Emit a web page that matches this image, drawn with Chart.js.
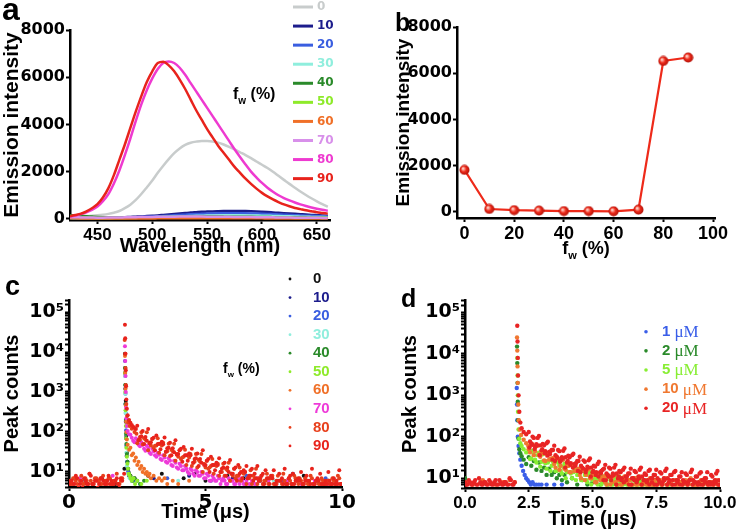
<!DOCTYPE html>
<html>
<head>
<meta charset="utf-8">
<script src="https://cdn.jsdelivr.net/npm/chart.js@4.4.1/dist/chart.umd.min.js"></script>
<style>
html, body { margin: 0; padding: 0; background: #fff; }
#wrap { position: relative; width: 741px; height: 531px; overflow: hidden; }
.panel { position: absolute; }
</style>
</head>
<body>
<div id="wrap">
  <div class="panel" style="left:0;top:0;width:370px;height:262px"><canvas id="chartA"></canvas></div>
  <div class="panel" style="left:370px;top:0;width:371px;height:262px"><canvas id="chartB"></canvas></div>
  <div class="panel" style="left:0;top:262px;width:370px;height:269px"><canvas id="chartC"></canvas></div>
  <div class="panel" style="left:370px;top:262px;width:371px;height:269px"><canvas id="chartD"></canvas></div>
</div>
<script>
// ---- panel a: emission spectra ----
const wavelengths = [425,430,435,440,445,450,455,460,465,470,475,480,485,490,495,500,505,510,515,520,525,530,535,540,545,550,555,560,565,570,575,580,585,590,595,600,605,610,615,620,625,630,635,640,645,650,655,660];
const fwLabels = ['0','10','20','30','40','50','60','70','80','90'];
const spec0 = [90,95,100,115,130,150,175,210,260,330,450,600,800,1050,1330,1620,1950,2250,2530,2780,2980,3130,3220,3270,3300,3300,3280,3230,3150,3050,2940,2820,2700,2570,2430,2290,2150,1990,1820,1650,1480,1320,1160,1010,870,740,620,510];
const spec10 = [50,45,40,40,40,40,45,50,55,60,70,80,90,100,115,130,145,165,185,205,225,245,265,280,295,305,315,322,328,332,333,332,328,320,310,298,285,270,255,240,225,210,195,180,167,155,143,132];
const spec20 = [40,36,32,30,30,30,32,35,40,45,52,60,68,76,86,96,108,120,134,148,162,176,190,202,212,222,229,234,238,240,240,238,235,230,223,215,206,196,186,175,165,154,144,134,125,117,109,101];
const spec30 = [30,28,26,25,25,25,26,28,30,34,38,43,49,55,61,68,75,83,91,99,107,114,121,128,133,138,142,145,147,148,148,147,145,142,138,134,129,123,117,111,105,99,93,87,82,77,72,68];
const spec40 = [150,140,125,110,95,80,68,58,52,50,50,52,55,58,62,66,70,74,78,82,85,88,90,92,93,94,94,94,93,92,90,88,86,83,80,77,74,70,67,63,60,57,54,51,48,46,44,42];
const spec50 = [60,55,50,45,40,36,34,33,33,34,35,37,40,43,46,49,52,55,58,60,62,64,65,66,67,67,67,66,65,64,62,60,58,56,54,52,50,48,46,44,42,40,38,36,34,33,32,31];
const spec60 = [20,19,18,17,16,15,15,15,15,15,16,16,17,17,18,18,19,19,20,20,20,21,21,21,21,21,21,21,21,20,20,20,20,19,19,19,18,18,18,17,17,17,16,16,16,15,15,15];
const spec70 = [70,65,60,55,52,50,50,52,55,58,62,66,70,74,78,82,85,88,90,92,93,94,94,94,93,92,90,88,86,84,82,80,77,74,71,68,65,62,59,56,53,50,48,46,44,42,40,38];
const spec80 = [100,140,200,280,380,520,750,1050,1500,2050,2700,3400,4150,4850,5450,5950,6350,6600,6670,6600,6400,6100,5750,5400,5050,4700,4350,4000,3650,3300,2950,2620,2300,2000,1750,1520,1320,1150,1000,880,780,690,610,540,480,430,385,345];
const spec90 = [110,160,220,320,450,620,900,1300,1850,2500,3150,3850,4550,5200,5800,6250,6600,6660,6500,6250,5900,5500,5050,4600,4200,3800,3450,3100,2800,2500,2200,1950,1700,1480,1280,1100,950,820,710,610,530,460,410,360,320,280,250,220];
const specColors = ['#c8cccc','#1c1c8c','#3a5ee0','#8feedd','#2a8a2a','#8eea2a','#f07028','#d890ea','#ee3ad0','#e8231c'];
const waveTicks = [450,500,550,600,650];
const intensityTicks = [0,2000,4000,6000,8000];

// ---- panel b: peak intensity vs water fraction ----
const fwLevels = [0,10,20,30,40,50,60,70,80,90];
const peakIntensity = [1820,130,80,60,40,40,30,100,6530,6680];
const fwTicks = [0,20,40,60,80,100];

// ---- panel c: decay curves vs fw, [time us, counts] ----
const decay0 = [[0.6,6],[1.2,7],[1.7,5],[2.03,12],[2.05,9000],[2.06,4000],[2.07,1500],[2.08,600],[2.09,200],[2.1,80],[2.12,30],[2.14,18],[2.18,10],[2.25,8],[2.4,7],[2.9,8],[3.4,9],[4.2,7],[4.6,9],[5.0,6],[5.8,8],[6.4,7],[7.3,6],[8.6,8],[9.5,6]];
const decay10 = [[2.05,3000],[2.06,1200],[2.07,500],[2.08,180],[2.09,70],[2.11,25],[2.14,12],[2.2,8],[2.3,6],[3.1,7],[4.4,8],[6.0,7],[7.0,6],[8.2,9],[9.1,6]];
const decay20 = [[2.05,6000],[2.06,2500],[2.07,900],[2.08,300],[2.09,110],[2.1,45],[2.13,18],[2.17,10],[2.25,7],[2.35,6],[3.6,7],[5.2,6],[6.5,8],[7.8,6],[9.4,7]];
const decay30 = [[2.05,2500],[2.06,900],[2.07,300],[2.08,90],[2.1,30],[2.12,14],[2.16,9],[2.22,7],[2.3,6],[2.6,5],[4.0,6],[7.5,6]];
const decay40 = [[2.05,4000],[2.06,1500],[2.07,500],[2.08,200],[2.09,90],[2.1,50],[2.12,28],[2.14,18],[2.17,12],[2.2,9],[2.24,8],[2.28,7],[2.33,6],[2.4,7],[2.5,6],[2.6,5],[2.75,6]];
const decay50 = [[2.05,3000],[2.06,1000],[2.07,350],[2.08,140],[2.09,70],[2.1,40],[2.12,24],[2.14,16],[2.16,12],[2.19,9],[2.22,8],[2.26,7],[2.3,6],[2.36,7],[2.42,5],[2.5,6],[2.65,5],[2.85,6]];
const decay60 = [[2.05,8000],[2.06,3000],[2.07,1200],[2.08,450],[2.09,180],[2.1,100],[2.12,65],[2.15,48],[2.2,36],[2.25,40],[2.3,26],[2.35,29],[2.4,19],[2.45,23],[2.5,15],[2.55,18],[2.6,12],[2.65,14],[2.7,10],[2.75,12],[2.8,9],[2.85,10],[2.9,8],[2.95,9],[3.0,7],[3.1,8],[3.2,6],[3.3,7],[3.4,6],[3.5,7],[3.6,5],[3.8,6],[4.0,5],[4.4,6]];
const decay70 = [[0.4,7],[1.1,6],[1.6,8],[2.05,14000],[2.06,6000],[2.07,2500],[2.08,1000],[2.09,400],[2.1,220],[2.12,140],[2.15,105],[2.2,88],
  [2.25,85],[2.3,72],[2.35,60],[2.4,55],[2.45,70],[2.5,58],[2.55,48],[2.6,44],[2.65,55],[2.7,47],[2.75,38],[2.8,34],[2.85,45],[2.9,40],[2.95,30],[3.0,28],
  [3.05,38],[3.1,33],[3.15,26],[3.2,24],[3.25,30],[3.3,27],[3.35,21],[3.4,20],[3.45,26],[3.5,23],[3.55,18],[3.6,17],[3.65,22],[3.7,19],[3.75,15],[3.8,14],
  [3.85,19],[3.9,17],[3.95,13],[4.0,12],[4.05,16],[4.1,14],[4.15,11],[4.2,11],[4.25,14],[4.3,12],[4.35,10],[4.4,9],[4.45,12],[4.5,11],[4.55,9],[4.6,8],
  [4.65,11],[4.7,10],[4.75,8],[4.8,8],[4.85,10],[4.9,9],[4.95,7],[5.0,7],[5.05,9],[5.1,8],[5.15,6],[5.2,6],[5.25,8],[5.3,7],[5.35,6],[5.4,6],[5.45,8],
  [5.5,7],[5.55,5],[5.6,6],[5.65,7],[5.7,6],[5.75,5],[5.8,5],[5.85,7],[5.9,6],[5.95,6],[6.0,6],[6.05,5],[6.1,5],[6.15,7],[6.2,6],[6.25,5],[6.3,7],[6.35,6],
  [6.4,5],[6.45,5],[6.5,6],[6.55,7],[6.6,5],[6.65,5],[6.7,6],[6.75,6],[6.8,5],[6.85,5],[6.9,7],[6.95,6],[7.1,5],[7.3,6],[7.6,5],[8.0,6],[8.5,5],[9.0,6],[9.5,5]];
const decay80 = [[0.05,5],[0.15,7],[0.25,6],[0.35,4],[0.45,8],[0.55,5],[0.65,6],[0.75,9],[0.85,5],[0.95,7],[1.05,6],[1.15,5],[1.25,8],[1.35,6],[1.45,7],[1.55,5],[1.65,6],[1.75,9],[1.85,5],[1.95,7],
  [2.04,20000],[2.06,9000],[2.07,4000],[2.08,1500],[2.1,500],[2.13,250],[2.17,170],[2.22,140],[2.3,120],[2.4,100],[2.47,90],
  [2.55,62],[2.65,99],[2.75,70],[2.85,98],[2.95,54],[3.05,67],[3.15,45],[3.25,70],[3.35,50],[3.45,54],
  [3.55,32],[3.65,51],[3.75,36],[3.85,51],[3.95,28],[4.05,35],[4.15,23],[4.25,36],[4.35,26],[4.45,28],
  [4.55,17],[4.65,28],[4.75,20],[4.85,28],[4.95,16],[5.05,19],[5.15,13],[5.25,21],[5.35,15],[5.45,16],
  [5.55,10],[5.65,16],[5.75,12],[5.85,17],[5.95,9],[6.05,12],[6.15,8],[6.25,13],[6.35,10],[6.45,10],
  [6.55,7],[6.65,11],[6.75,8],[6.85,12],[6.95,7],[7.05,8],[7.15,6],[7.25,9],[7.35,7],[7.45,8],
  [7.55,5],[7.65,8],[7.75,6],[7.85,9],[7.95,5],[8.05,7],[8.15,5],[8.25,8],[8.35,6],[8.45,7],
  [8.55,5],[8.65,7],[8.75,5],[8.85,8],[8.95,5],[9.05,6],[9.15,5],[9.25,7],[9.35,5],[9.45,6],
  [9.55,5],[9.65,7],[9.75,5],[9.85,8],[9.95,5]];
const decay80low = [[0.0,6],[0.1,5],[0.2,7],[0.3,5],[0.4,6],[0.5,5],[0.6,7],[0.7,5],[0.8,6],[0.9,5],[1.0,7],[1.1,6],[1.2,5],[1.3,6],[1.4,5],[1.5,7],[1.6,5],[1.7,6],[1.8,5],[1.9,6],
  [2.5,52],[2.6,64],[2.7,49],[2.8,64],[2.9,35],[3.0,46],[3.1,40],[3.2,46],[3.3,30],[3.4,46],
  [3.5,26],[3.6,33],[3.7,25],[3.8,33],[3.9,19],[4.0,24],[4.1,21],[4.2,24],[4.3,15],[4.4,23],
  [4.5,14],[4.6,18],[4.7,13],[4.8,18],[4.9,10],[5.0,13],[5.1,12],[5.2,14],[5.3,9],[5.4,14],
  [5.5,8],[5.6,10],[5.7,8],[5.8,11],[5.9,6],[6.0,8],[6.1,7],[6.2,8],[6.3,6],[6.4,9],
  [6.5,5],[6.6,7],[6.7,5],[6.8,7],[6.9,5],[7.0,6],[7.1,5],[7.2,6],[7.3,5],[7.4,7],
  [7.5,5],[7.6,5],[7.7,6],[7.8,5],[7.9,6],[8.0,5],[8.1,6],[8.2,5],[8.3,7],[8.4,5],
  [8.5,6],[8.6,5],[8.7,6],[8.8,5],[8.9,7],[9.0,5],[9.1,6],[9.2,5],[9.3,6],[9.4,5],
  [9.5,6],[9.6,5],[9.7,6],[9.8,5],[9.9,7],[10.0,5]];
const decay90 = [[0.05,6],[0.15,5],[0.25,8],[0.35,4],[0.45,6],[0.55,7],[0.65,5],[0.75,9],[0.85,5],[0.95,6],[1.05,4],[1.15,7],[1.25,6],[1.35,5],[1.45,8],[1.55,6],[1.65,5],[1.75,7],[1.85,4],[1.95,6],
  [2.02,9],[2.05,48000],[2.06,22000],[2.07,9000],[2.08,3500],[2.09,1400],[2.1,650],[2.12,380],[2.15,260],[2.2,200],[2.25,170],[2.3,150],[2.35,135],[2.4,125],[2.45,118],
  [2.5,143],[2.6,75],[2.7,105],[2.8,75],[2.9,119],[3.0,55],[3.1,72],[3.2,82],[3.3,51],[3.4,57],
  [3.5,73],[3.6,39],[3.7,54],[3.8,39],[3.9,62],[4.0,28],[4.1,38],[4.2,42],[4.3,26],[4.4,29],
  [4.5,38],[4.6,21],[4.7,29],[4.8,21],[4.9,35],[5.0,15],[5.1,21],[5.2,24],[5.3,15],[5.4,17],
  [5.5,22],[5.6,12],[5.7,17],[5.8,13],[5.9,20],[6.0,9],[6.1,13],[6.2,15],[6.3,10],[6.4,11],
  [6.5,14],[6.6,8],[6.7,12],[6.8,9],[6.9,14],[7.0,7],[7.1,9],[7.2,11],[7.3,7],[7.4,8],
  [7.5,11],[7.6,6],[7.7,9],[7.8,7],[7.9,12],[8.0,5],[8.1,8],[8.2,9],[8.3,6],[8.4,7],
  [8.5,10],[8.6,5],[8.7,8],[8.8,6],[8.9,12],[9.0,5],[9.1,7],[9.2,9],[9.3,5],[9.4,6],
  [9.5,10],[9.6,5],[9.7,7],[9.8,6],[9.9,11],[10.0,5]];
const decay90low = [[0.0,5],[0.1,6],[0.2,5],[0.3,7],[0.4,5],[0.5,4],[0.6,6],[0.7,5],[0.8,8],[0.9,5],[1.0,6],[1.1,5],[1.2,7],[1.3,5],[1.4,6],[1.5,5],[1.6,5],[1.7,6],[1.8,5],[1.9,7],
  [2.55,63],[2.65,78],[2.75,50],[2.85,60],[2.95,52],[3.05,68],[3.15,35],[3.25,50],[3.35,37],[3.45,49],
  [3.55,32],[3.65,40],[3.75,26],[3.85,31],[3.95,27],[4.05,35],[4.15,18],[4.25,26],[4.35,19],[4.45,26],
  [4.55,17],[4.65,22],[4.75,14],[4.85,17],[4.95,15],[5.05,19],[5.15,10],[5.25,15],[5.35,11],[5.45,15],
  [5.55,10],[5.65,13],[5.75,8],[5.85,10],[5.95,9],[6.05,12],[6.15,6],[6.25,9],[6.35,7],[6.45,10],
  [6.55,7],[6.65,8],[6.75,6],[6.85,7],[6.95,6],[7.05,8],[7.15,5],[7.25,7],[7.35,5],[7.45,7],
  [7.55,5],[7.65,6],[7.75,6],[7.85,5],[7.95,5],[8.05,7],[8.15,5],[8.25,5],[8.35,6],[8.45,6],
  [8.55,5],[8.65,6],[8.75,6],[8.85,5],[8.95,5],[9.05,6],[9.15,6],[9.25,5],[9.35,5],[9.45,5],
  [9.55,6],[9.65,5],[9.75,5],[9.85,5],[9.95,5]];
const decaySetsC = [decay0,decay10,decay20,decay30,decay40,decay50,decay60,decay70,decay80.concat(decay80low),decay90.concat(decay90low)];
const decayColorsC = ['#111111','#1c1c8c','#3a5ee0','#8feedd','#2a8a2a','#8eea2a','#f07028','#ee3ad8','#e8401c','#e8231c'];
const timeTicksC = [0,5,10];

// ---- panel d: decay curves vs concentration ----
const concLabels = ['1 \u03bcM','2 \u03bcM','5 \u03bcM','10 \u03bcM','20 \u03bcM'];
const conc1 = [[2.03,1500],[2.04,600],[2.05,250],[2.07,100],[2.1,60],[2.13,40],[2.17,28],[2.22,20],[2.28,15],[2.34,12],[2.4,10],[2.46,9],[2.52,8],[2.58,7],[2.65,8],[2.72,7],[2.8,7],[2.9,7],[3.0,7],[3.2,7],[3.5,7],[3.8,7]];
const conc2 = [[0.0,10],[2.04,15000],[2.05,6000],[2.06,2000],[2.07,700],[2.08,250],[2.1,90],[2.13,50],[2.17,40],[2.22,34],[2.3,28],[2.4,22],
  [2.5,32],[2.6,20],[2.7,26],[2.8,16],[2.9,24],[3.0,15],[3.1,18],[3.2,12],[3.3,17],[3.4,12],[3.5,14],[3.6,10],[3.7,12],[3.8,9],[3.9,12],[4.0,8],[4.2,10],[4.4,7],[4.6,9],[4.8,7],[5.0,8],[5.3,7],[5.6,7],[6.0,7]];
const conc5 = [[2.05,8000],[2.06,3000],[2.07,1000],[2.08,400],[2.1,150],[2.13,90],[2.17,70],[2.22,60],[2.3,50],[2.4,42],
  [2.5,50],[2.6,30],[2.7,37],[2.8,24],[2.9,41],[3.0,25],[3.1,26],[3.2,17],[3.3,27],[3.4,20],
  [3.5,25],[3.6,15],[3.7,20],[3.8,13],[3.9,22],[4.0,14],[4.1,14],[4.2,10],[4.3,16],[4.4,12],
  [4.5,15],[4.6,9],[4.7,12],[4.8,8],[4.9,14],[5.0,9],[5.1,10],[5.2,7],[5.3,11],[5.4,8],
  [5.5,11],[5.6,7],[5.7,9],[5.8,7],[5.9,11],[6.0,7],[6.1,8],[6.2,7],[6.3,9],[6.4,7],
  [6.5,9],[6.6,7],[6.7,8],[6.8,7],[6.9,9],[7.0,7],[7.2,7],[7.4,7],[7.7,7],[8.0,7]];
const conc5b = [[2.55,29],[2.65,46],[2.75,28],[2.85,36],[2.95,19],[3.05,38],[3.15,23],[3.25,24],[3.35,15],[3.45,25],
  [3.55,15],[3.65,24],[3.75,15],[3.85,19],[3.95,10],[4.05,20],[4.15,13],[4.25,14],[4.35,9],[4.45,15],
  [4.55,9],[4.65,15],[4.75,9],[4.85,12],[4.95,7],[5.05,14],[5.15,9],[5.25,10],[5.35,7],[5.45,11],
  [5.55,7],[5.65,11],[5.75,7],[5.85,9],[5.95,7],[6.05,11],[6.15,7],[6.25,8],[6.35,7],[6.45,9],
  [6.55,7],[6.65,10],[6.75,7],[6.85,8],[6.95,7],[7.05,9],[7.15,7],[7.25,8],[7.35,7],[7.45,8]];
const conc10 = [[0.1,8],[0.3,7],[0.7,9],[1.2,7],[1.5,8],[1.75,9],[1.95,8],
  [2.04,25000],[2.05,12000],[2.06,5000],[2.07,2000],[2.09,600],[2.11,250],[2.15,150],[2.2,110],[2.3,85],[2.4,70],[2.48,60],
  [2.55,42],[2.65,66],[2.75,45],[2.85,61],[2.95,33],[3.05,40],[3.15,26],[3.25,40],[3.35,29],[3.45,31],
  [3.55,18],[3.65,29],[3.75,20],[3.85,28],[3.95,16],[4.05,20],[4.15,14],[4.25,21],[4.35,15],[4.45,17],
  [4.55,10],[4.65,16],[4.75,12],[4.85,17],[4.95,10],[5.05,12],[5.15,8],[5.25,13],[5.35,10],[5.45,11],
  [5.55,7],[5.65,11],[5.75,8],[5.85,12],[5.95,7],[6.05,9],[6.15,7],[6.25,11],[6.35,8],[6.45,9],
  [6.55,7],[6.65,10],[6.75,7],[6.85,11],[6.95,7],[7.05,8],[7.15,7],[7.25,10],[7.35,7],[7.45,9],
  [7.55,7],[7.65,9],[7.75,7],[7.85,10],[7.95,7],[8.05,8],[8.15,7],[8.25,9],[8.35,7],[8.45,8],
  [8.55,7],[8.65,9],[8.75,7],[8.85,10],[8.95,7],[9.05,7],[9.15,7],[9.25,9],[9.35,7],[9.45,8],
  [9.55,7],[9.65,8],[9.75,7],[9.85,9],[9.95,7]];
const conc10b = [[2.5,50],[2.6,66],[2.7,36],[2.8,59],[2.9,37],[3.0,42],[3.1,27],[3.2,40],[3.3,28],[3.4,29],
  [3.5,22],[3.6,29],[3.7,16],[3.8,27],[3.9,17],[4.0,20],[4.1,14],[4.2,21],[4.3,15],[4.4,16],
  [4.5,12],[4.6,16],[4.7,9],[4.8,16],[4.9,10],[5.0,12],[5.1,8],[5.2,13],[5.3,9],[5.4,10],
  [5.5,8],[5.6,11],[5.7,7],[5.8,11],[5.9,8],[6.0,9],[6.1,7],[6.2,10],[6.3,8],[6.4,9],
  [6.5,7],[6.6,10],[6.7,7],[6.8,10],[6.9,7],[7.0,8],[7.1,7],[7.2,9],[7.3,7],[7.4,8],
  [7.5,7],[7.6,9],[7.7,7],[7.8,9],[7.9,7],[8.0,8],[8.1,7],[8.2,9],[8.3,7],[8.4,8],
  [8.5,7],[8.6,8],[8.7,7],[8.8,9],[8.9,7],[9.0,7],[9.1,7],[9.2,8],[9.3,7],[9.4,8],
  [9.5,7],[9.6,8],[9.7,7],[9.8,8],[9.9,7],[10.0,7]];
const conc20 = [[0.05,7],[0.15,9],[0.25,7],[0.35,8],[0.45,7],[0.55,10],[0.65,7],[0.75,8],[0.85,7],[0.95,9],[1.05,7],[1.15,8],[1.25,7],[1.35,9],[1.45,7],[1.55,8],[1.65,7],[1.75,10],[1.85,7],[1.95,8],
  [2.05,48000],[2.06,20000],[2.07,8000],[2.08,3000],[2.1,1000],[2.13,400],[2.17,220],[2.22,160],[2.3,130],[2.4,115],
  [2.5,130],[2.6,69],[2.7,94],[2.8,66],[2.9,104],[3.0,47],[3.1,62],[3.2,70],[3.3,43],[3.4,48],
  [3.5,61],[3.6,33],[3.7,45],[3.8,32],[3.9,52],[4.0,24],[4.1,32],[4.2,36],[4.3,22],[4.4,26],
  [4.5,33],[4.6,18],[4.7,25],[4.8,19],[4.9,30],[5.0,14],[5.1,19],[5.2,22],[5.3,14],[5.4,16],
  [5.5,21],[5.6,12],[5.7,17],[5.8,13],[5.9,21],[6.0,10],[6.1,14],[6.2,16],[6.3,11],[6.4,13],
  [6.5,17],[6.6,10],[6.7,14],[6.8,11],[6.9,18],[7.0,9],[7.1,12],[7.2,15],[7.3,10],[7.4,12],
  [7.5,16],[7.6,9],[7.7,13],[7.8,10],[7.9,17],[8.0,8],[8.1,12],[8.2,14],[8.3,9],[8.4,11],
  [8.5,14],[8.6,8],[8.7,12],[8.8,9],[8.9,16],[9.0,8],[9.1,11],[9.2,13],[9.3,9],[9.4,10],
  [9.5,14],[9.6,8],[9.7,11],[9.8,9],[9.9,15],[10.0,7],
  [2.55,77],[2.65,101],[2.75,57],[2.85,94],[2.95,62],[3.05,67],[3.15,45],[3.25,76],[3.35,44],[3.45,48],
  [3.55,36],[3.65,48],[3.75,27],[3.85,46],[3.95,32],[4.05,35],[4.15,23],[4.25,39],[4.35,23],[4.45,26],
  [4.55,20],[4.65,27],[4.75,16],[4.85,27],[4.95,18],[5.05,20],[5.15,14],[5.25,25],[5.35,15],[5.45,17],
  [5.55,13],[5.65,18],[5.75,11],[5.85,18],[5.95,13],[6.05,15],[6.15,10],[6.25,18],[6.35,11],[6.45,13],
  [6.55,10],[6.65,15],[6.75,9],[6.85,16],[6.95,11],[7.05,13],[7.15,9],[7.25,16],[7.35,10],[7.45,12],
  [7.55,10],[7.65,14],[7.75,8],[7.85,15],[7.95,10],[8.05,12],[8.15,9],[8.25,15],[8.35,9],[8.45,11],
  [8.55,9],[8.65,13],[8.75,8],[8.85,14],[8.95,9],[9.05,11],[9.15,8],[9.25,14],[9.35,9],[9.45,10],
  [9.55,8],[9.65,12],[9.75,7],[9.85,13],[9.95,9]];
const conc20low = [[0.0,8],[0.1,7],[0.2,8],[0.3,7],[0.4,9],[0.5,7],[0.6,8],[0.7,7],[0.8,8],[0.9,7],[1.0,8],[1.1,7],[1.2,9],[1.3,7],[1.4,8],[1.5,7],[1.6,8],[1.7,7],[1.8,9],[1.9,7],
  [2.53,55],[2.63,64],[2.73,51],[2.83,62],[2.93,36],[3.03,50],[3.13,40],[3.23,35],[3.33,38],[3.43,28],
  [3.53,26],[3.63,31],[3.73,25],[3.83,30],[3.93,18],[4.03,26],[4.13,21],[4.23,18],[4.33,20],[4.43,15],
  [4.53,14],[4.63,17],[4.73,14],[4.83,18],[4.93,11],[5.03,15],[5.13,12],[5.23,11],[5.33,13],[5.43,9],
  [5.53,9],[5.63,11],[5.73,9],[5.83,12],[5.93,7],[6.03,11],[6.13,9],[6.23,8],[6.33,9],[6.43,7],
  [6.53,7],[6.63,9],[6.73,8],[6.83,10],[6.93,7],[7.03,9],[7.13,8],[7.23,7],[7.33,8],[7.43,7],
  [7.53,7],[7.63,8],[7.73,7],[7.83,9],[7.93,7],[8.03,9],[8.13,7],[8.23,7],[8.33,8],[8.43,7],
  [8.53,7],[8.63,8],[8.73,7],[8.83,9],[8.93,7],[9.03,8],[9.13,7],[9.23,7],[9.33,7],[9.43,8],
  [9.53,7],[9.63,7],[9.73,8],[9.83,8],[9.93,7]];
const concSets = [conc1,conc2,conc5.concat(conc5b),conc10.concat(conc10b),conc20.concat(conc20low)];
const concColors = ['#3a5ee8','#2a8a2a','#88ee33','#f07830','#e82424'];
const timeTicksD = [0,2.5,5,7.5,10];
const timeTickLabelsD = ['0.0','2.5','5.0','7.5','10.0'];
const logTickVals = [10,100,1000,10000,100000];
const logTickLabels = ['10\u00b9','10\u00b2','10\u00b3','10\u2074','10\u2075'];

// ---------------------------------------------------------------
const SANS = '"Liberation Sans", Arial, sans-serif';
const WIDE = '"DejaVu Sans", sans-serif';
const SERIF = '"Liberation Serif", "Times New Roman", serif';
Chart.defaults.animation = false;
Chart.defaults.color = '#000';
Chart.defaults.font.family = SANS;

function axis(o) {
  return {
    type: o.type || 'linear',
    min: o.min, max: o.max,
    border: { color: '#000', width: 2.5 },
    grid: { drawOnChartArea: false, drawTicks: true, tickLength: 4, tickWidth: 2, color: '#000', tickColor: '#000' },
    ticks: { autoSkip: false, maxRotation: 0, padding: o.pad != null ? o.pad : 1, color: '#000',
             font: { family: o.fam, size: o.size, weight: 'bold' }, callback: o.cb },
    title: { display: !!o.title, text: o.title, color: '#000',
             font: { family: SANS, size: o.titleSize || 20, weight: 'bold' }, padding: o.titlePad || 0 },
    afterBuildTicks: o.vals ? (s => { s.ticks = o.vals.map(v => ({ value: v })); }) : undefined,
    afterFit: s => { if (o.w != null) s.width = o.w; if (o.h != null) s.height = o.h; }
  };
}

function logLabel(v) {
  const i = logTickVals.findIndex(t => Math.abs(t - v) / t < 1e-6);
  return i >= 0 ? logTickLabels[i] : '';
}

function drawFw(ctx, f, chart) {
  const big = 'bold ' + f.size + 'px ' + SANS;
  const small = 'bold ' + Math.round(f.size * 0.6) + 'px ' + SANS;
  ctx.font = big; const w1 = ctx.measureText('f').width; const w3 = ctx.measureText(' (%)').width;
  ctx.font = small; const w2 = ctx.measureText('w').width;
  let x = f.x;
  if (f.center) x = (chart.chartArea.left + chart.chartArea.right) / 2 - (w1 + w2 + w3) / 2;
  ctx.fillStyle = '#000';
  ctx.textBaseline = 'alphabetic';
  ctx.textAlign = 'left';
  ctx.font = big; ctx.fillText('f', x, f.y);
  ctx.font = small; ctx.fillText('w', x + w1, f.y + f.size * 0.3);
  ctx.font = big; ctx.fillText(' (%)', x + w1 + w2, f.y);
}

const decor = {
  id: 'decor',
  afterDraw(chart, args, opts) {
    const ctx = chart.ctx;
    ctx.save();
    if (opts.letter) {
      ctx.fillStyle = '#000';
      ctx.textAlign = 'left';
      ctx.textBaseline = 'alphabetic';
      ctx.font = 'bold ' + opts.letter.size + 'px ' + SANS;
      ctx.fillText(opts.letter.text, opts.letter.x, opts.letter.y);
    }
    const lg = opts.legend;
    if (lg) {
      chart.data.datasets.forEach((ds, i) => {
        const y = lg.y + i * lg.dy;
        const col = ds.borderColor;
        ctx.fillStyle = col; ctx.strokeStyle = col;
        if (lg.kind === 'line') {
          ctx.lineWidth = 3;
          ctx.beginPath(); ctx.moveTo(lg.x1, y); ctx.lineTo(lg.x2, y); ctx.stroke();
        } else {
          ctx.beginPath(); ctx.arc(lg.x1, y, lg.r, 0, Math.PI * 2); ctx.fill();
        }
        ctx.textAlign = 'left';
        ctx.textBaseline = 'middle';
        if (lg.unitFont) {
          const parts = ds.label.split(' ');
          ctx.font = lg.font;
          ctx.fillText(parts[0] + ' ', lg.tx, y);
          const w = ctx.measureText(parts[0] + ' ').width;
          ctx.font = lg.unitFont;
          ctx.fillText(parts[1], lg.tx + w, y + 1);
        } else {
          ctx.font = lg.font;
          ctx.fillText(ds.label, lg.tx, y);
        }
      });
    }
    (opts.fw || []).forEach(f => drawFw(ctx, f, chart));
    ctx.restore();
  }
};

function sphere(color) {
  const c = document.createElement('canvas');
  c.width = 11; c.height = 11;
  const g = c.getContext('2d');
  const grad = g.createRadialGradient(4, 4, 0.5, 5.5, 5.5, 5.5);
  grad.addColorStop(0, '#ffd6cc');
  grad.addColorStop(0.45, color);
  grad.addColorStop(1, '#a80e06');
  g.fillStyle = grad;
  g.beginPath(); g.arc(5.5, 5.5, 5, 0, Math.PI * 2); g.fill();
  return c;
}

// ---- chart a ----
const specSets = [spec0,spec10,spec20,spec30,spec40,spec50,spec60,spec70,spec80,spec90];
new Chart(document.getElementById('chartA'), {
  type: 'line',
  data: {
    datasets: specSets.map((vals, i) => ({
      label: fwLabels[i],
      data: wavelengths.map((w, k) => ({ x: w, y: vals[k] })),
      borderColor: specColors[i], backgroundColor: specColors[i],
      borderWidth: 2.5, pointRadius: 0, cubicInterpolationMode: 'monotone', order: -i
    }))
  },
  options: {
    responsive: true, maintainAspectRatio: false, events: [],
    layout: { padding: { left: 0, right: 40, top: 30, bottom: 0 } },
    scales: {
      x: axis({ min: 425, max: 662, vals: waveTicks, cb: v => String(v), fam: SANS, size: 17, h: 42,
                title: 'Wavelength (nm)', titleSize: 20, titlePad: { top: 0, bottom: 4 } }),
      y: axis({ min: -50, max: 8000, vals: intensityTicks, cb: v => String(v), fam: WIDE, size: 16, w: 70,
                title: 'Emission intensity', titleSize: 21, titlePad: { top: 0, bottom: 0 } })
    },
    plugins: {
      legend: { display: false }, tooltip: { enabled: false },
      decor: {
        letter: { text: 'a', x: 2, y: 20, size: 32 },
        legend: { kind: 'line', x1: 293, x2: 313, tx: 317, y: 7, dy: 19.07, font: 'bold 12px ' + WIDE },
        fw: [{ x: 233, y: 99, size: 16 }]
      }
    }
  },
  plugins: [decor]
});

// ---- chart b ----
new Chart(document.getElementById('chartB'), {
  type: 'line',
  data: {
    datasets: [{
      label: 'peak',
      data: fwLevels.map((f, k) => ({ x: f, y: peakIntensity[k] })),
      borderColor: '#ee2a1a', borderWidth: 2.2,
      pointStyle: sphere('#ee2a1a'), pointRadius: 5, tension: 0
    }]
  },
  options: {
    responsive: true, maintainAspectRatio: false, events: [],
    layout: { padding: { left: 0, right: 26, top: 27, bottom: 0 } },
    scales: {
      x: axis({ min: -3, max: 100.8, vals: fwTicks, cb: v => String(v), fam: SANS, size: 18, h: 44 }),
      y: axis({ min: -260, max: 8000, vals: intensityTicks, cb: v => String(v), fam: WIDE, size: 16, w: 87,
                title: 'Emission intensity', titleSize: 19, titlePad: { top: 22, bottom: 0 } })
    },
    plugins: {
      legend: { display: false }, tooltip: { enabled: false },
      decor: {
        letter: { text: 'b', x: 25, y: 31, size: 25 },
        fw: [{ center: true, y: 254, size: 18 }]
      }
    }
  },
  plugins: [decor]
});

// ---- chart c ----
new Chart(document.getElementById('chartC'), {
  type: 'scatter',
  data: {
    datasets: decaySetsC.map((pairs, i) => ({
      label: fwLabels[i],
      data: pairs.map(p => ({ x: p[0], y: p[1] })),
      backgroundColor: decayColorsC[i], borderColor: decayColorsC[i],
      pointRadius: 2, pointBorderWidth: 0, pointHoverRadius: 0, showLine: false, order: -i
    }))
  },
  options: {
    responsive: true, maintainAspectRatio: false, events: [],
    layout: { padding: { left: 0, right: 28, top: 38, bottom: 0 } },
    scales: {
      x: axis({ min: 0, max: 10, vals: timeTicksC, cb: v => String(v), fam: WIDE, size: 20, h: 44, pad: 0,
                title: 'Time (\u03bcs)', titleSize: 20, titlePad: { top: 0, bottom: 7 } }),
      y: axis({ type: 'logarithmic', min: 4.2, max: 200000, cb: logLabel, fam: WIDE, size: 19, w: 69,
                title: 'Peak counts', titleSize: 20, titlePad: { top: 0, bottom: 0 } })
    },
    plugins: {
      legend: { display: false }, tooltip: { enabled: false },
      decor: {
        letter: { text: 'c', x: 5, y: 33, size: 27 },
        legend: { kind: 'dot', x1: 290, r: 1.4, tx: 313, y: 17, dy: 18.55, font: 'bold 15px ' + SANS },
        fw: [{ x: 223, y: 111, size: 14 }]
      }
    }
  },
  plugins: [decor]
});

// ---- chart d ----
new Chart(document.getElementById('chartD'), {
  type: 'scatter',
  data: {
    datasets: concSets.map((pairs, i) => ({
      label: concLabels[i],
      data: pairs.map(p => ({ x: p[0], y: p[1] })),
      backgroundColor: concColors[i], borderColor: concColors[i],
      pointRadius: 2.2, pointBorderWidth: 0, pointHoverRadius: 0, showLine: false, order: -i
    }))
  },
  options: {
    responsive: true, maintainAspectRatio: false, events: [],
    layout: { padding: { left: 0, right: 21, top: 38, bottom: 0 } },
    scales: {
      x: axis({ min: 0, max: 10, vals: timeTicksD, cb: (v, i) => timeTickLabelsD[i], fam: SANS, size: 17, h: 43, pad: 1,
                title: 'Time (\u03bcs)', titleSize: 20, titlePad: { top: 0, bottom: 0 } }),
      y: axis({ type: 'logarithmic', min: 5.8, max: 200000, cb: logLabel, fam: WIDE, size: 19, w: 95,
                title: 'Peak counts', titleSize: 20, titlePad: { top: 28, bottom: 0 } })
    },
    plugins: {
      legend: { display: false }, tooltip: { enabled: false },
      decor: {
        letter: { text: 'd', x: 31, y: 45, size: 25 },
        legend: { kind: 'dot', x1: 276, r: 1.8, tx: 292, y: 69.7, dy: 19.15,
                  font: 'bold 15px ' + SANS, unitFont: '17px ' + SERIF }
      }
    }
  },
  plugins: [decor]
});
</script>
</body>
</html>
